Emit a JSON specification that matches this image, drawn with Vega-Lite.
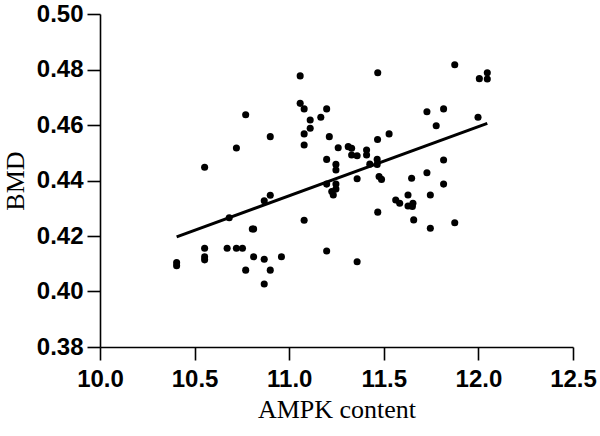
{
  "$schema": "https://vega.github.io/schema/vega-lite/v6.json",
  "width": 473,
  "height": 333,
  "autosize": {"type": "none"},
  "padding": {"left": 100, "top": 14, "right": 27, "bottom": 89},
  "background": "white",
  "config": {
    "view": {"stroke": null},
    "axis": {
      "grid": false,
      "labelFlush": false,
      "labelOverlap": false,
      "domainColor": "black",
      "domainWidth": 1.6,
      "tickColor": "black",
      "tickWidth": 1.6,
      "tickSize": 13,
      "labelFont": "Liberation Sans",
      "labelFontWeight": "bold",
      "labelFontSize": 24,
      "labelColor": "black",
      "titleFont": "Liberation Serif",
      "titleFontWeight": "normal",
      "titleFontSize": 26,
      "titleColor": "black"
    }
  },
  "layer": [
    {
      "data": {
        "values": [
          {"x": 11.058, "y": 0.4777}, {"x": 11.058, "y": 0.4678}, {"x": 11.079, "y": 0.4658},
          {"x": 11.198, "y": 0.4658}, {"x": 10.770, "y": 0.4637}, {"x": 11.111, "y": 0.4618},
          {"x": 11.167, "y": 0.4628}, {"x": 11.111, "y": 0.4588}, {"x": 11.079, "y": 0.4568},
          {"x": 10.900, "y": 0.4558}, {"x": 11.212, "y": 0.4558}, {"x": 11.079, "y": 0.4528},
          {"x": 10.721, "y": 0.4517}, {"x": 11.259, "y": 0.4518}, {"x": 10.553, "y": 0.4448},
          {"x": 11.198, "y": 0.4476}, {"x": 11.247, "y": 0.4458}, {"x": 11.247, "y": 0.4438},
          {"x": 11.468, "y": 0.4788}, {"x": 11.875, "y": 0.4817}, {"x": 12.005, "y": 0.4767},
          {"x": 12.047, "y": 0.4788}, {"x": 12.047, "y": 0.4766}, {"x": 11.728, "y": 0.4648},
          {"x": 11.816, "y": 0.4658}, {"x": 11.998, "y": 0.4628}, {"x": 11.777, "y": 0.4597},
          {"x": 11.528, "y": 0.4568}, {"x": 11.467, "y": 0.4548}, {"x": 11.312, "y": 0.4522},
          {"x": 11.330, "y": 0.4516}, {"x": 11.409, "y": 0.4510}, {"x": 11.330, "y": 0.4492},
          {"x": 11.359, "y": 0.4489}, {"x": 11.409, "y": 0.4492}, {"x": 11.465, "y": 0.4476},
          {"x": 11.426, "y": 0.4459}, {"x": 11.465, "y": 0.4458}, {"x": 11.816, "y": 0.4474},
          {"x": 11.359, "y": 0.4406}, {"x": 11.475, "y": 0.4414}, {"x": 11.488, "y": 0.4404},
          {"x": 11.647, "y": 0.4408}, {"x": 11.728, "y": 0.4428}, {"x": 11.816, "y": 0.4387},
          {"x": 11.198, "y": 0.4387}, {"x": 11.247, "y": 0.4387}, {"x": 11.247, "y": 0.4369},
          {"x": 11.225, "y": 0.4360}, {"x": 11.233, "y": 0.4348}, {"x": 11.468, "y": 0.4286},
          {"x": 11.563, "y": 0.4330}, {"x": 11.584, "y": 0.4318}, {"x": 11.628, "y": 0.4348},
          {"x": 11.628, "y": 0.4308}, {"x": 11.654, "y": 0.4318}, {"x": 11.651, "y": 0.4306},
          {"x": 11.658, "y": 0.4258}, {"x": 11.746, "y": 0.4348}, {"x": 11.746, "y": 0.4228},
          {"x": 11.875, "y": 0.4248}, {"x": 11.359, "y": 0.4107}, {"x": 11.198, "y": 0.4146},
          {"x": 11.079, "y": 0.4257}, {"x": 10.405, "y": 0.4104}, {"x": 10.405, "y": 0.4093},
          {"x": 10.553, "y": 0.4156}, {"x": 10.553, "y": 0.4125}, {"x": 10.553, "y": 0.4114},
          {"x": 10.672, "y": 0.4156}, {"x": 10.721, "y": 0.4156}, {"x": 10.753, "y": 0.4156},
          {"x": 10.683, "y": 0.4266}, {"x": 10.805, "y": 0.4225}, {"x": 10.812, "y": 0.4225},
          {"x": 10.868, "y": 0.4327}, {"x": 10.900, "y": 0.4347}, {"x": 10.770, "y": 0.4077},
          {"x": 10.812, "y": 0.4125}, {"x": 10.868, "y": 0.4116}, {"x": 10.900, "y": 0.4077},
          {"x": 10.868, "y": 0.4027}, {"x": 10.959, "y": 0.4125}
        ]
      },
      "mark": {"type": "circle", "size": 50, "color": "black", "opacity": 1},
      "encoding": {
        "x": {
          "field": "x", "type": "quantitative",
          "scale": {"domain": [10, 12.5], "nice": false, "zero": false},
          "axis": {"title": "AMPK content", "values": [10, 10.5, 11, 11.5, 12, 12.5], "format": ".1f", "labelPadding": 7, "titlePadding": 5}
        },
        "y": {
          "field": "y", "type": "quantitative",
          "scale": {"domain": [0.38, 0.5], "nice": false, "zero": false},
          "axis": {"title": "BMD", "values": [0.38, 0.4, 0.42, 0.44, 0.46, 0.48, 0.5], "format": ".2f", "labelPadding": 4, "titlePadding": 8}
        }
      }
    },
    {
      "data": {"values": [{"x": 10.405, "y": 0.4197}, {"x": 12.047, "y": 0.4606}]},
      "mark": {"type": "line", "color": "black", "strokeWidth": 3},
      "encoding": {
        "x": {"field": "x", "type": "quantitative"},
        "y": {"field": "y", "type": "quantitative"}
      }
    }
  ]
}
